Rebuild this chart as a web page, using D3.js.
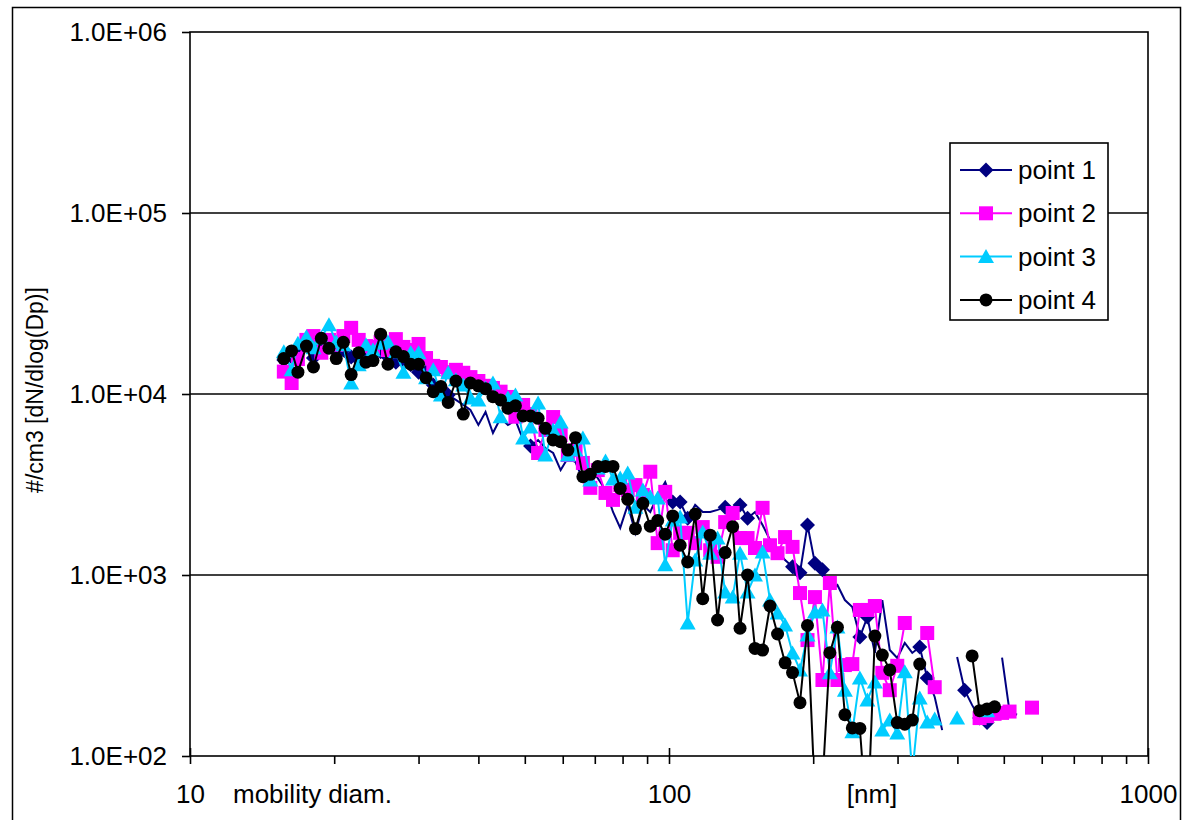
<!DOCTYPE html>
<html><head><meta charset="utf-8">
<script src="https://cdn.jsdelivr.net/npm/d3@7"></script>
<style>
body{margin:0;background:#fff}
svg{display:block}
text{font-family:"Liberation Sans",Arial,sans-serif;fill:#000}
</style>
</head><body>
<svg id="c" width="1182" height="820"></svg>
<script>
// mobility diameter channels [nm]
const diameters=[15.7,16.3,16.8,17.5,18.1,18.8,19.5,20.2,20.9,21.7,
22.5,23.3,24.1,25.0,25.9,26.9,27.9,28.9,30.0,31.1,
32.2,33.4,34.6,35.9,37.2,38.5,40.0,41.4,42.9,44.5,
46.1,47.8,49.6,51.4,53.3,55.2,57.3,59.4,61.5,63.8,
66.1,68.5,71.0,73.7,76.4,79.1,82.0,85.1,88.2,91.4,
94.7,98.2,101.8,105.5,109.4,113.4,117.6,121.9,126.3,131.0,
135.8,140.7,145.9,151.2,156.8,162.5,168.5,174.7,181.1,187.7,
194.6,201.7,209.1,216.7,224.7,232.9,241.4,250.3,259.5,269.0,
278.8,289.0,299.6,310.6,322.0,333.8,346.0,358.7,371.8,385.4,
399.5,414.2,429.4,445.1,461.4,478.3,495.8,514.0,532.8,552.3,
572.5];

// point 1: line values (all channels)
const point1=[15400,16000,17500,18700,15800,18000,18700,17100,17500,16000,
15400,17500,16400,17100,16000,15000,15400,14500,13200,13200,
11200,10800,9870,9270,8700,8160,6740,7950,6090,7370,
6740,7180,5570,5160,5570,5030,4720,3800,4430,4210,
3350,3800,3430,2950,2230,1820,2440,1710,2440,2230,
2770,3260,2530,2530,2060,2440,2230,2230,2290,2370,
2150,2440,2060,2230,1890,1560,1370,1210,1110,1030,
1890,1160,1070,826,880,727,666,454,586,371,
727,385,348,421,371,400,270,212,139,null,
352,231,191,162,153,null,350,176,169,null,
null];
// point 1: values shown with a diamond marker
const point1Markers=[15400,16000,17500,18700,15800,18000,18700,17100,17500,16000,
15400,17500,16400,17100,16000,15000,15400,14500,13200,13200,
11200,10800,9870,null,null,null,null,null,null,null,
null,null,null,5160,null,null,null,null,null,null,
null,null,null,null,null,null,null,null,null,null,
null,null,2530,2530,2060,null,null,null,null,2370,
null,2440,2060,null,null,null,null,null,1110,1030,
1890,1160,1070,null,null,null,null,454,586,null,
null,null,null,null,null,400,270,null,null,null,
null,231,null,162,153,null,null,null,null,null,
null];

const point2=[13300,11500,15600,19900,20900,16900,19900,18700,20900,23200,
19900,18400,18200,19400,17500,20100,18200,17500,18900,15800,
14300,14100,13200,13600,13100,12400,11800,11100,10800,10300,
9630,7490,8700,7750,4720,6330,7460,5940,4600,4900,
4160,3030,3800,2840,2600,3140,2950,3140,2770,3720,
1500,2880,1370,1710,1710,1500,1840,1370,1260,1960,
2200,1600,1600,1410,2350,1460,1320,1620,1430,795,
437,755,263,903,263,318,322,641,641,674,
288,231,315,543,null,null,478,240,null,null,
null,null,null,162,166,171,173,176,null,null,
185];

const point3=[17100,13600,19100,20700,18000,20400,24100,19400,18700,11500,
14500,18700,17500,19100,19400,17100,13200,16900,16900,12300,
13600,9870,13100,12000,11200,9510,9270,10800,11500,7490,
9510,9870,5710,6570,8920,4600,6330,7000,4600,4900,
5710,3350,3900,4260,3390,3430,3660,2370,2950,2700,
2660,1140,2010,2090,543,1210,1730,1320,1600,805,
755,1320,805,1000,1340,727,617,529,371,299,
466,625,641,288,516,231,136,270,204,256,
139,158,134,292,80,209,154,160,null,null,
162,null,null,null,178,null,null,null,null,null,
null];

const point4=[15700,17300,13200,18400,14100,20300,17900,15700,19300,12800,
16900,15000,15300,21400,14600,17100,16100,14600,14600,12300,
10300,11000,8980,11800,7750,11500,11100,10700,9660,9270,
8340,8600,7560,7560,7340,6460,5570,5450,4900,5740,
3490,3600,3970,3980,3980,3010,2620,1800,2490,1860,
2000,1680,2120,1460,1180,2170,740,1660,564,1330,
1850,508,1000,393,385,674,472,327,289,197,
526,60,70,372,514,169,143,142,40,460,
361,299,153,150,158,322,null,null,null,null,
null,null,357,178,182,187,null,null,null,null,
null];

const seriesNames=["point 1","point 2","point 3","point 4"];
const seriesColors=["#000080","#FF00FF","#00CCFF","#000000"];
const seriesMarkers=["diamond","square","triangle","circle"];
const yTicks=[1e2,1e3,1e4,1e5,1e6];
const yGrid=[1e3,1e4,1e5];
const xMajorTicks=[10,100,1000];
const xMinorTicks=[20,30,40,50,60,70,80,90,200,300,400,500,600,700,800,900];
const xTitleLeft="mobility diam.";
const xTitleUnit="[nm]";
const yTitle="#/cm3 [dN/dlog(Dp)]";

const allLines=[point1,point2,point3,point4];
const allMarkers=[point1Markers,point2,point3,point4];

const svg=d3.select("#c");
const P={l:190,r:1148,t:32,b:756};
const x=d3.scaleLog().domain([10,1000]).range([P.l,P.r]);
const y=d3.scaleLog().domain([100,1e6]).range([P.b,P.t]);

// outer chart frame
svg.append("rect").attr("x",12.5).attr("y",7.5).attr("width",1168).attr("height",900)
  .attr("fill","none").attr("stroke","#000").attr("stroke-width",1.5);

// gridlines
svg.append("g").selectAll("line").data(yGrid).join("line")
  .attr("x1",P.l).attr("x2",P.r).attr("y1",d=>y(d)).attr("y2",d=>y(d))
  .attr("stroke","#000").attr("stroke-width",1.6);

// plot border
svg.append("rect").attr("x",P.l).attr("y",P.t).attr("width",P.r-P.l).attr("height",P.b-P.t)
  .attr("fill","none").attr("stroke","#000").attr("stroke-width",1.6);

// y axis
const fmtE=d=>{const e=Math.round(Math.log10(d));return "1.0E+"+String(e).padStart(2,"0");};
const ya=svg.append("g").attr("transform",`translate(${P.l},0)`)
  .call(d3.axisLeft(y).tickValues(yTicks).tickSize(8).tickPadding(15).tickFormat(fmtE));
ya.select(".domain").remove();
ya.selectAll("line").attr("stroke","#000").attr("stroke-width",1.6);
ya.selectAll("text").attr("font-size",26).attr("font-family","Liberation Sans, Arial, sans-serif");

// x axis
const xa=svg.append("g").attr("transform",`translate(0,${P.b})`)
  .call(d3.axisBottom(x).tickValues(xMajorTicks.concat(xMinorTicks)).tickSize(8).tickPadding(21)
    .tickFormat(d=>xMajorTicks.includes(d)?String(d):""));
xa.select(".domain").remove();
xa.selectAll("line").attr("stroke","#000").attr("stroke-width",1.6);
xa.selectAll("text").attr("font-size",26).attr("font-family","Liberation Sans, Arial, sans-serif");
const xa2=svg.append("g").attr("transform",`translate(0,${P.b})`)
  .call(d3.axisTop(x).tickValues(xMajorTicks).tickSize(8).tickFormat(""));
xa2.select(".domain").remove();
xa2.selectAll("line").attr("stroke","#000").attr("stroke-width",1.6);

// axis titles
svg.append("text").attr("x",233).attr("y",803).attr("font-size",26).text(xTitleLeft);
svg.append("text").attr("x",872).attr("y",803).attr("font-size",26).attr("text-anchor","middle").text(xTitleUnit);
svg.append("text").attr("transform","translate(43,390) rotate(-90)").attr("font-size",23)
  .attr("text-anchor","middle").text(yTitle);

// markers
function markerPath(type){
  switch(type){
    case "diamond": return "M0,-7.5L7.5,0L0,7.5L-7.5,0Z";
    case "square": return "M-7,-7H7V7H-7Z";
    case "triangle": return "M0,-7.5L8,6.5L-8,6.5Z";
    default: return "M6.5,0A6.5,6.5 0 1,1 -6.5,0A6.5,6.5 0 1,1 6.5,0Z";
  }
}

svg.append("clipPath").attr("id","plotclip").append("rect")
  .attr("x",P.l).attr("y",P.t).attr("width",P.r-P.l).attr("height",P.b-P.t);
const plot=svg.append("g").attr("clip-path","url(#plotclip)");

const line=d3.line().defined(p=>p.v!=null).x(p=>x(p.d)).y(p=>y(p.v));
allLines.forEach((vals,i)=>{
  const pts=diameters.map((d,k)=>({d:d,v:vals[k]}));
  const mpts=diameters.map((d,k)=>({d:d,v:allMarkers[i][k]})).filter(p=>p.v!=null);
  const g=plot.append("g");
  g.append("path").datum(pts).attr("d",line).attr("fill","none")
    .attr("stroke",seriesColors[i]).attr("stroke-width",2).attr("stroke-linejoin","miter");
  g.selectAll("path.m").data(mpts).join("path").attr("class","m")
    .attr("transform",p=>`translate(${x(p.d)},${y(p.v)})`)
    .attr("d",markerPath(seriesMarkers[i])).attr("fill",seriesColors[i]);
});

// legend
const L={x:950,y:143,w:158,h:177};
const lg=svg.append("g");
lg.append("rect").attr("x",L.x).attr("y",L.y).attr("width",L.w).attr("height",L.h)
  .attr("fill","#fff").attr("stroke","#000").attr("stroke-width",1.6);
seriesNames.forEach((n,i)=>{
  const cy=170+i*43.3;
  lg.append("line").attr("x1",960).attr("x2",1012).attr("y1",cy).attr("y2",cy)
    .attr("stroke",seriesColors[i]).attr("stroke-width",2);
  lg.append("path").attr("transform",`translate(986,${cy})`).attr("d",markerPath(seriesMarkers[i]))
    .attr("fill",seriesColors[i]);
  lg.append("text").attr("x",1018).attr("y",cy).attr("dy","0.35em").attr("font-size",26).text(n);
});
</script>
</body></html>
